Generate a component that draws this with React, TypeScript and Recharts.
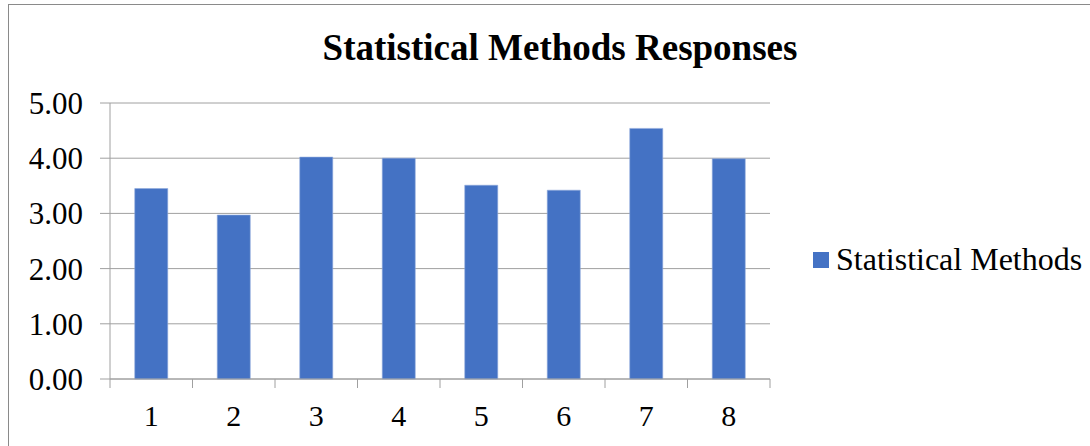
import React from 'react';
import { BarChart, Bar, XAxis, YAxis, CartesianGrid, Legend } from 'recharts';

const categories = ['1', '2', '3', '4', '5', '6', '7', '8'];
const methodValues = [3.45, 2.97, 4.02, 4.0, 3.51, 3.42, 4.54, 3.99];
const yTicks = [0, 1, 2, 3, 4, 5];

const seriesName = 'Statistical Methods';
const chartTitle = 'Statistical Methods Responses';

const data = categories.map((name, i) => ({ name, value: methodValues[i] }));

const FONT = 'Liberation Serif, Times New Roman, serif';
const GRID = '#a0a0a0';
const BAR = '#4472C4';
const TICK_SIZE = 9;
const TICK_MARGIN = 17;

// category labels centred, tick marks on the band edges
const CategoryTick = (props: any) => {
  const { x, y, payload, index, visibleTicksCount } = props;
  const half = payload?.offset ?? 0;
  const axisY = y - TICK_SIZE - TICK_MARGIN;
  const isLast = index === visibleTicksCount - 1;
  return (
    <g>
      <line x1={x - half} x2={x - half} y1={axisY} y2={axisY + TICK_SIZE} stroke={GRID} strokeWidth={1} />
      {isLast && (
        <line x1={x + half} x2={x + half} y1={axisY} y2={axisY + TICK_SIZE} stroke={GRID} strokeWidth={1} />
      )}
      <text x={x} y={y} dy="0.71em" textAnchor="middle" fill="#000" fontSize={30} fontFamily={FONT}>
        {payload.value}
      </text>
    </g>
  );
};

const YTick = (props: any) => {
  const { x, y, payload } = props;
  return (
    <text x={x} y={y} dy="0.355em" textAnchor="end" fill="#000" fontSize={31} fontFamily={FONT}>
      {Number(payload.value).toFixed(2)}
    </text>
  );
};

const LegendContent = () => (
  <div style={{ display: 'flex', alignItems: 'flex-start', fontFamily: FONT, fontSize: 32, lineHeight: '32px', color: '#000' }}>
    <span style={{ width: 16, height: 16, background: BAR, marginTop: 9, flexShrink: 0 }} />
    <span style={{ marginLeft: 7, whiteSpace: 'nowrap' }}>{seriesName}</span>
  </div>
);

const App: React.FC = () => {
  return (
    <div style={{ position: 'absolute', left: 0, top: 0, width: 1090, height: 446, background: '#fff', overflow: 'hidden' }}>
      <div
        style={{
          position: 'absolute',
          left: 8,
          top: 4,
          width: 1200,
          height: 600,
          borderLeft: '1.5px solid #8a8a8a',
          borderTop: '1.5px solid #8a8a8a',
        }}
      />
      <div
        style={{
          position: 'absolute',
          left: 0,
          width: 1120,
          top: 27,
          textAlign: 'center',
          fontFamily: FONT,
          fontWeight: 'bold',
          fontSize: 37,
          lineHeight: '42px',
          color: '#000',
        }}
      >
        {chartTitle}
      </div>
      <div style={{ position: 'absolute', left: 0, top: 0 }}>
        <BarChart
          width={1090}
          height={446}
          data={data}
          margin={{ top: 103, right: 320, bottom: 7, left: 0 }}
          barCategoryGap="30%"
        >
          <CartesianGrid vertical={false} stroke={GRID} strokeWidth={1} />
          <XAxis
            dataKey="name"
            height={60}
            axisLine={{ stroke: GRID, strokeWidth: 1 }}
            tickLine={false}
            tickSize={TICK_SIZE}
            tickMargin={TICK_MARGIN}
            interval={0}
            tick={<CategoryTick />}
          />
          <YAxis
            width={110}
            domain={[0, 5]}
            ticks={yTicks}
            interval={0}
            axisLine={{ stroke: GRID, strokeWidth: 1 }}
            tickLine={{ stroke: GRID, strokeWidth: 1 }}
            tickSize={10}
            tickMargin={17}
            tick={<YTick />}
          />
          <Legend
            layout="vertical"
            align="center"
            verticalAlign="middle"
            wrapperStyle={{ left: 813, top: 243, width: 277 }}
            content={<LegendContent />}
          />
          <Bar dataKey="value" name={seriesName} fill={BAR} stroke="#8eaadb" strokeWidth={0.6} isAnimationActive={false} />
        </BarChart>
      </div>
    </div>
  );
};

export default App;
